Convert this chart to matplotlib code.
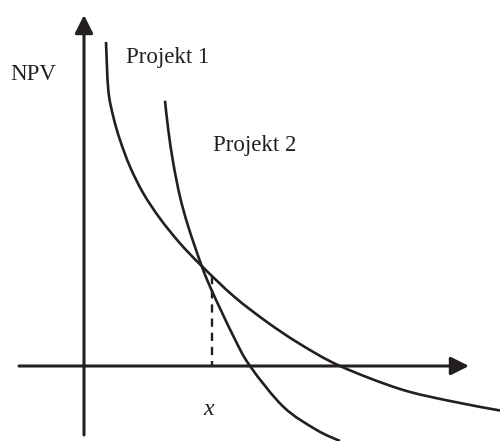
import numpy as np
import matplotlib
matplotlib.use("Agg")
import matplotlib.pyplot as plt
from matplotlib.path import Path
from matplotlib.patches import PathPatch

# Curve samples (x = rate units, y = NPV units)
p1_x = [22, 24.3, 29.3, 36, 46, 59.3, 76, 96, 117.7, 150, 183, 216, 256, 316, 366, 416]
p1_y = [324, 276, 249.3, 226, 199.3, 172.7, 147.5, 122.7, 100, 69.5, 44, 22, 0, -23, -35, -44.5]
p2_x = [81, 84.3, 89.3, 96, 104.3, 117.7, 128.3, 149.3, 166, 199.3, 232.7, 256]
p2_y = [265.3, 236, 202.7, 169.3, 139.3, 100, 74.3, 30, 0, -40.7, -64, -75]
x_star = 128
labels = {"npv": "NPV", "p1": "Projekt 1", "p2": "Projekt 2", "x": "x"}

ink = "#231f20"
plt.rcParams["font.family"] = ["Liberation Serif", "DejaVu Serif"]


def smooth_path(xs, ys):
    """Cubic Bezier path passing through the sample points (Catmull-Rom tangents)."""
    pts = np.column_stack([xs, ys]).astype(float)
    verts = [pts[0]]
    codes = [Path.MOVETO]
    n = len(pts)
    for i in range(n - 1):
        p0 = pts[i - 1] if i > 0 else pts[i]
        p1 = pts[i]
        p2 = pts[i + 1]
        p3 = pts[i + 2] if i + 2 < n else pts[i + 1]
        c1 = p1 + (p2 - p0) / 6.0
        c2 = p2 - (p3 - p1) / 6.0
        verts += [c1, c2, p2]
        codes += [Path.CURVE4] * 3
    return Path(verts, codes)


fig = plt.figure(figsize=(5.0, 4.41), dpi=100)
ax = fig.add_axes([0, 0, 1, 1])
ax.set_xlim(-84, 416)
ax.set_ylim(-75, 366)
ax.axis("off")

arrow = dict(arrowstyle="-|>,head_length=1.1,head_width=0.55", mutation_scale=10,
             lw=2.2, color=ink, shrinkA=0, shrinkB=0)
ax.annotate("", xy=(0, 351), xytext=(0, -69), arrowprops=arrow)
ax.annotate("", xy=(385, 0), xytext=(-65, 0), arrowprops=arrow)

for xs, ys in ((p1_x, p1_y), (p2_x, p2_y)):
    ax.add_patch(PathPatch(smooth_path(xs, ys), facecolor="none", edgecolor=ink,
                           lw=1.9, capstyle="butt"))

y_top = np.interp(x_star, p1_x, p1_y)
ax.plot([x_star, x_star], [y_top, 0], color=ink, lw=1.7, dashes=(3.5, 2.5))

fs = 16.5
ax.text(-74, 286, labels["npv"], fontsize=fs, color=ink, ha="left", va="baseline")
ax.text(42, 303, labels["p1"], fontsize=fs, color=ink, ha="left", va="baseline")
ax.text(129, 215, labels["p2"], fontsize=fs, color=ink, ha="left", va="baseline")
ax.text(x_star - 3, -49, labels["x"], fontsize=17, color=ink, ha="center",
        va="baseline", style="italic")

fig.savefig("out.png", dpi=100)
